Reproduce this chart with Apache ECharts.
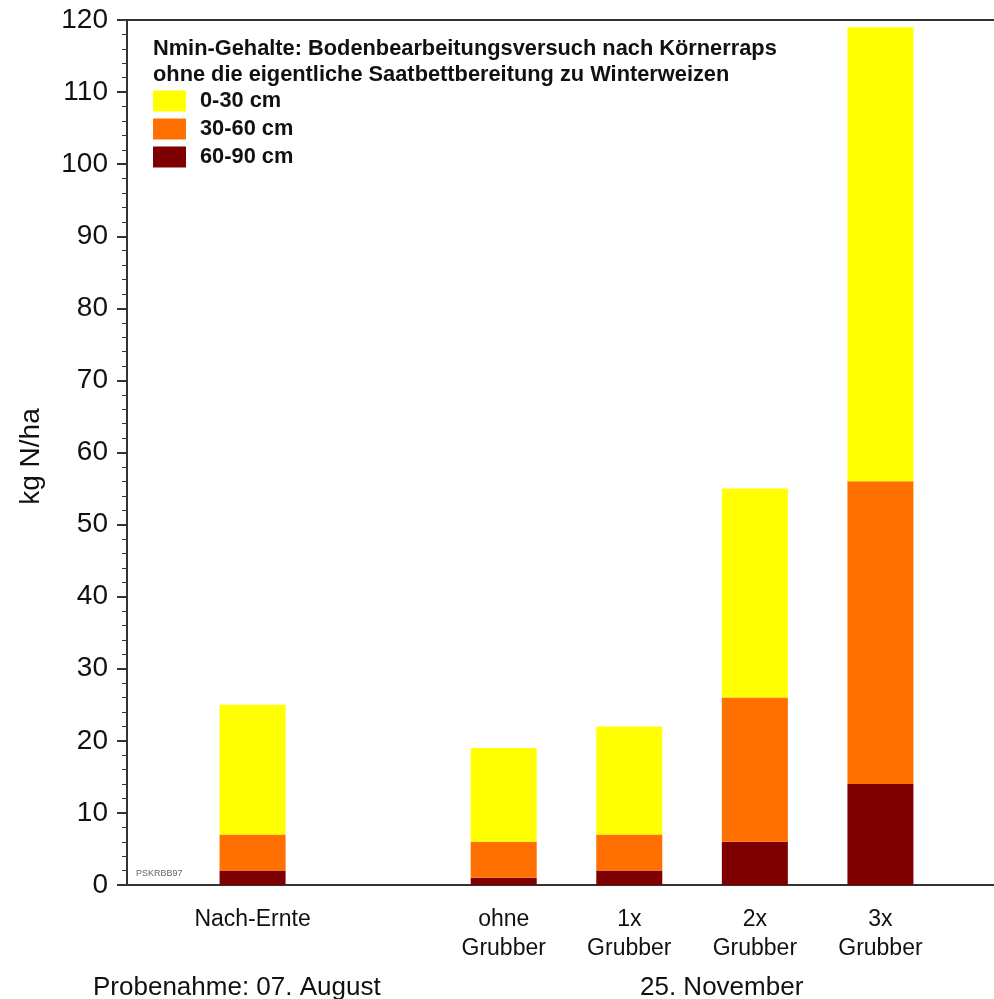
<!DOCTYPE html>
<html><head><meta charset="utf-8">
<script src="https://cdn.jsdelivr.net/npm/echarts@6/dist/echarts.min.js"></script>
<style>html,body{margin:0;padding:0;background:#fff;overflow:hidden}#c{width:1009px;height:999px}</style>
</head><body><div id="c"></div>
<script>
const categories = ["", "Nach-Ernte", "", "ohne\nGrubber", "1x\nGrubber", "2x\nGrubber", "3x\nGrubber", ""];
const seriesNames = ["0-30 cm", "30-60 cm", "60-90 cm"];
const v0_30 = ["-", 18, "-", 13, 15, 29, 63, "-"];
const v30_60 = ["-", 5, "-", 5, 5, 20, 42, "-"];
const v60_90 = ["-", 2, "-", 1, 2, 6, 14, "-"];
const yTicks = { min: 0, max: 120, interval: 10 };
const titleLines = ["Nmin-Gehalte: Bodenbearbeitungsversuch nach Körnerraps", "ohne die eigentliche Saatbettbereitung zu Winterweizen"];
const dateLabels = ["Probenahme: 07. August", "25. November"];
const codeLabel = "PSKRBB97";

const colors = { "0-30 cm": "#FFFF00", "30-60 cm": "#FF7000", "60-90 cm": "#7F0000" };
const font = "Liberation Sans, Arial, sans-serif";
const chart = echarts.init(document.getElementById('c'));
function bar(name, data) {
  return { name, type: 'bar', stack: 'n', data, barWidth: 66, itemStyle: { color: colors[name] }, animation: false };
}
chart.setOption({
  animation: false,
  textStyle: { fontFamily: font },
  title: {
    text: titleLines.join("\n"), left: 153, top: 36, padding: 0,
    textStyle: { fontFamily: font, fontSize: 21.8, fontWeight: 'bold', color: '#111', lineHeight: 26 }
  },
  legend: {
    data: seriesNames, orient: 'vertical', left: 153, top: 90, padding: 0, itemWidth: 33, itemHeight: 21, itemGap: 6,
    icon: 'rect', textStyle: { fontFamily: font, fontSize: 21.8, fontWeight: 'bold', color: '#111', lineHeight: 22, padding: [0, 0, 0, 9] }
  },
  grid: { left: 127, right: 0, top: 20, bottom: 114, show: true, borderColor: '#333', borderWidth: 2, backgroundColor: 'transparent' },
  xAxis: {
    type: 'category', data: categories, boundaryGap: false,
    axisLine: { lineStyle: { color: '#333', width: 2 } },
    axisTick: { show: false },
    axisLabel: { interval: 0, fontFamily: font, fontSize: 23, color: '#111', margin: 20, lineHeight: 29 }
  },
  yAxis: {
    type: 'value', min: yTicks.min, max: yTicks.max, interval: yTicks.interval,
    name: 'kg N/ha', nameLocation: 'middle', nameGap: 82, nameRotate: 90,
    nameTextStyle: { fontFamily: font, fontSize: 28, color: '#111', padding: [0, 8, 0, 0] },
    axisLine: { show: true, lineStyle: { color: '#333', width: 2 } },
    axisTick: { show: true, length: 10, lineStyle: { color: '#333', width: 2 } },
    minorTick: { show: true, splitNumber: 5, length: 5, lineStyle: { color: '#333', width: 1 } },
    splitLine: { show: false },
    axisLabel: { fontFamily: font, fontSize: 28, color: '#111', margin: 19 }
  },
  graphic: [
    { type: 'text', left: 93, top: 975, style: { text: dateLabels[0], font: '26px ' + font, fill: '#111' } },
    { type: 'text', left: 640, top: 975, style: { text: dateLabels[1], font: '26px ' + font, fill: '#111' } },
    { type: 'text', left: 136, top: 869, style: { text: codeLabel, font: '9px ' + font, fill: '#666' } }
  ],
  series: [bar("60-90 cm", v60_90), bar("30-60 cm", v30_60), bar("0-30 cm", v0_30)]
});
</script></body></html>
